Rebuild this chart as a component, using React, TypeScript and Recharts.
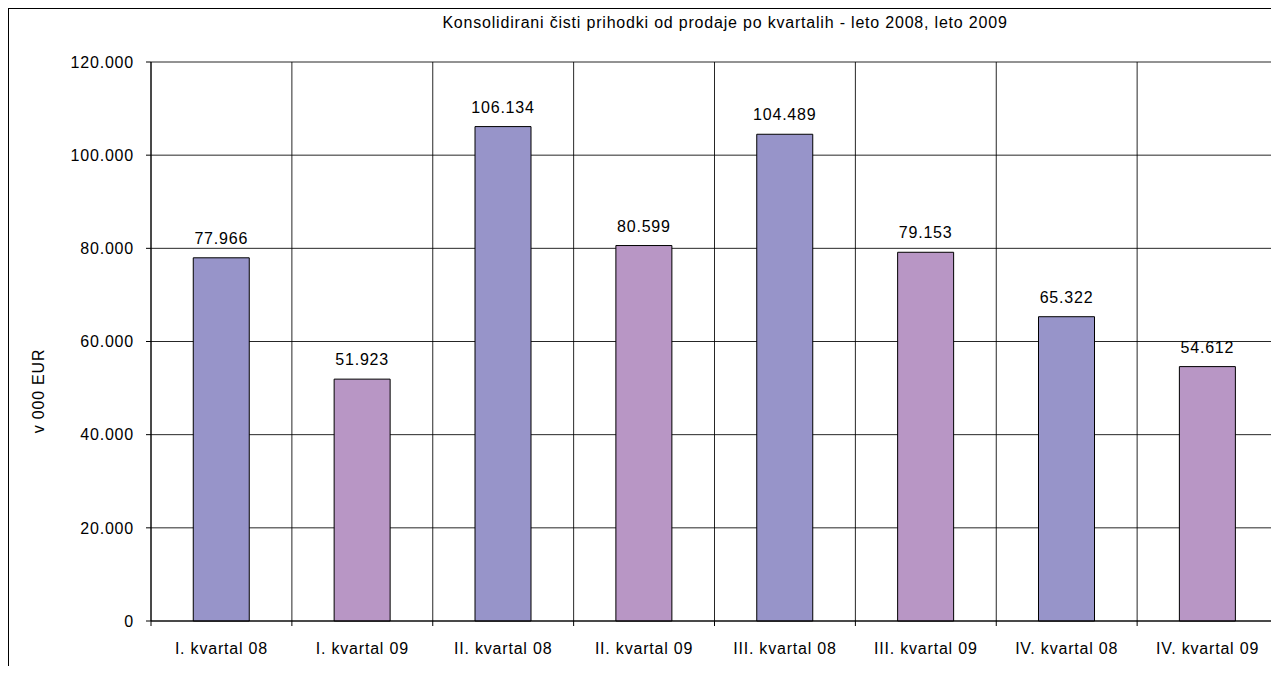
import { BarChart, Bar, XAxis, YAxis, CartesianGrid, LabelList, Cell } from 'recharts'

// quarterly net sales, in 000 EUR
const quarters = [
  'I. kvartal 08',
  'I. kvartal 09',
  'II. kvartal 08',
  'II. kvartal 09',
  'III. kvartal 08',
  'III. kvartal 09',
  'IV. kvartal 08',
  'IV. kvartal 09',
]
const revenue = [77966, 51923, 106134, 80599, 104489, 79153, 65322, 54612]
const yTicks = [0, 20000, 40000, 60000, 80000, 100000, 120000]

const title = 'Konsolidirani čisti prihodki od prodaje po kvartalih - leto 2008, leto 2009'
const yLabel = 'v 000 EUR'

const colors: Record<string, string> = { '08': '#9794c9', '09': '#b896c5' }

const data = quarters.map((q, i) => ({ quarter: q, value: revenue[i] }))

// 77966 -> "77.966"
const fmt = (v: any) => String(v).replace(/\B(?=(\d{3})+(?!\d))/g, '.')

const font = '"Liberation Sans", Arial, sans-serif'
const textStyle = { fill: '#000', fontSize: 16, letterSpacing: 0.8, fontFamily: font }

const W = 1270
const H = 657
const margin = { top: 53, right: 1, bottom: 0, left: 0 }
const Y_AXIS_W = 142
const TICK = 5
const TICK_GAP = 17

// vertical gridlines sit on the category boundaries, like excel does
const edgeLines = ({ offset }: any) =>
  [...quarters.map((_, i) => i), quarters.length].map(
    (i) => offset.left + (i * offset.width) / quarters.length
  )

// category label + the small boundary tick marks under the axis
const QuarterTick = (props: any) => {
  const { x, y, payload, index, visibleTicksCount } = props
  const n = visibleTicksCount || quarters.length
  const axisW = Number(props.width) || W - margin.left - margin.right - Y_AXIS_W
  const half = axisW / n / 2
  const axisY = y - TICK - TICK_GAP
  return (
    <g>
      <line x1={x - half} x2={x - half} y1={axisY} y2={axisY + TICK} stroke="#000" />
      {index === n - 1 && (
        <line x1={x + half} x2={x + half} y1={axisY} y2={axisY + TICK} stroke="#000" />
      )}
      <text x={x} y={y} dy="0.71em" textAnchor="middle" style={textStyle}>
        {payload.value}
      </text>
    </g>
  )
}

export default function App() {
  return (
    <div
      style={{
        position: 'relative',
        width: 1271,
        height: 658,
        boxSizing: 'border-box',
        borderTop: '1px solid #000',
        borderLeft: '1px solid #000',
        overflow: 'hidden',
        fontFamily: font,
        background: '#fff',
      }}
    >
      <div
        style={{
          position: 'absolute',
          top: 5,
          left: 716,
          transform: 'translateX(-50%)',
          whiteSpace: 'nowrap',
          fontSize: 16,
          letterSpacing: 0.8,
          color: '#000',
        }}
      >
        {title}
      </div>
      <div
        style={{
          position: 'absolute',
          top: 382,
          left: 30,
          transform: 'translate(-50%, -50%) rotate(-90deg)',
          whiteSpace: 'nowrap',
          fontSize: 16,
          letterSpacing: 0.8,
          color: '#000',
        }}
      >
        {yLabel}
      </div>

      <BarChart width={W} height={H} data={data} margin={margin} barCategoryGap="30%">
        <CartesianGrid stroke="#000" strokeOpacity={0.85} verticalCoordinatesGenerator={edgeLines} />
        <XAxis
          dataKey="quarter"
          interval={0}
          tickLine={false}
          axisLine={{ stroke: '#000' }}
          tickSize={TICK}
          tickMargin={TICK_GAP}
          height={45}
          tick={<QuarterTick />}
        />
        <YAxis
          domain={[0, 120000]}
          ticks={yTicks}
          tickFormatter={fmt}
          axisLine={{ stroke: '#000' }}
          tickLine={{ stroke: '#000' }}
          tickSize={TICK}
          tickMargin={12}
          width={Y_AXIS_W}
          tick={textStyle}
        />
        <Bar dataKey="value" stroke="#000" strokeWidth={1} isAnimationActive={false}>
          {data.map((d) => (
            <Cell key={d.quarter} fill={colors[d.quarter.slice(-2)]} />
          ))}
          <LabelList dataKey="value" position="top" offset={14} formatter={fmt} style={textStyle} />
        </Bar>
      </BarChart>
    </div>
  )
}
